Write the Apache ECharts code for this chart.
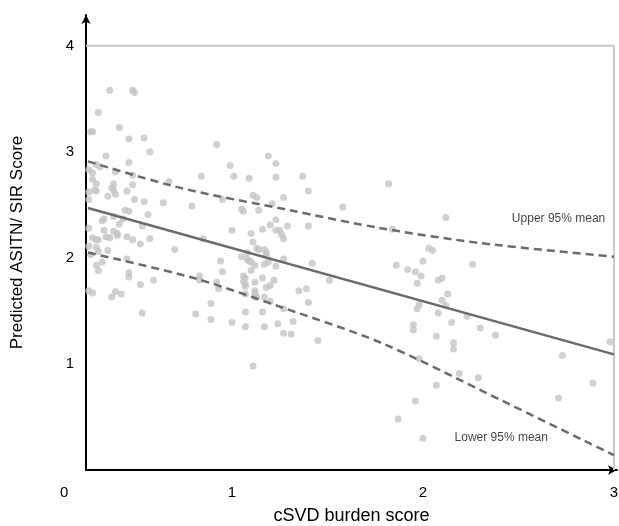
<html>

<head>
    <meta charset='utf-8' />
    <script src="https://cdn.jsdelivr.net/npm/echarts@6/dist/echarts.min.js"></script>
    <title>cSVD burden score</title>
    <style>
        body {
            margin: 0;
            overflow: hidden;
            background: #fff;
        }

        #chart {
            width: 619px;
            height: 526px;
        }
    </style>
</head>

<body>
    <div id="chart"></div>
    <script type="text/javascript">
        // axis ticks
        var xTicks = [1, 2, 3];
        var yTicks = [1, 2, 3, 4];

        // observed scores, [cSVD burden, ASITN/SIR]
        var pointsLow = [
            [0.36, 3.58], [0.48, 3.58], [0.49, 3.56], [0.30, 3.37], [0.26, 3.19], [0.27, 3.19], [0.41, 3.23],
            [0.46, 3.12], [0.54, 3.13], [0.57, 3.00], [0.34, 2.96], [0.46, 2.90], [0.29, 2.88], [0.31, 2.86],
            [0.27, 2.80], [0.25, 2.83], [0.39, 2.81], [0.48, 2.78], [0.27, 2.74], [0.29, 2.70], [0.38, 2.70],
            [0.37, 2.66], [0.38, 2.64], [0.48, 2.69], [0.45, 2.63], [0.67, 2.72], [0.25, 2.62], [0.28, 2.64],
            [0.29, 2.63], [0.39, 2.60], [0.35, 2.58], [0.49, 2.55], [0.54, 2.53], [0.64, 2.52], [0.25, 2.55],
            [0.44, 2.45], [0.46, 2.44], [0.56, 2.41], [0.33, 2.37], [0.32, 2.35], [0.43, 2.37], [0.38, 2.39],
            [0.41, 2.32], [0.53, 2.30], [0.25, 2.28], [0.33, 2.26], [0.38, 2.25], [0.40, 2.23], [0.40, 2.21],
            [0.34, 2.20], [0.36, 2.19], [0.45, 2.20], [0.48, 2.17], [0.57, 2.18], [0.52, 2.13], [0.27, 2.19],
            [0.29, 2.17], [0.30, 2.17], [0.25, 2.11], [0.29, 2.10], [0.30, 2.06], [0.35, 2.07], [0.70, 2.08],
            [0.26, 2.03], [0.45, 1.99], [0.32, 1.96], [0.29, 1.93], [0.30, 1.88], [0.46, 1.86], [0.46, 1.82],
            [0.59, 1.79], [0.52, 1.75], [0.25, 1.69], [0.27, 1.67], [0.39, 1.68], [0.37, 1.63], [0.42, 1.66],
            [0.53, 1.48]
        ];
        var pointsMid = [
            [0.92, 3.07], [1.19, 2.96], [0.99, 2.87], [1.23, 2.89], [0.84, 2.77], [1.01, 2.77], [1.09, 2.75],
            [1.23, 2.76], [1.37, 2.77], [1.40, 2.63], [1.11, 2.59], [1.13, 2.57], [1.27, 2.57], [0.95, 2.55],
            [1.21, 2.51], [0.79, 2.49], [1.05, 2.46], [1.06, 2.44], [1.14, 2.45], [1.58, 2.48], [1.23, 2.36],
            [1.40, 2.30], [1.29, 2.30], [1.00, 2.26], [1.16, 2.27], [1.20, 2.31], [1.23, 2.26], [1.25, 2.26],
            [1.26, 2.22], [1.27, 2.18], [1.10, 2.23], [0.85, 2.18], [1.11, 2.15], [1.13, 2.09], [1.14, 2.08],
            [1.17, 2.08], [1.18, 2.05], [1.18, 2.02], [1.08, 2.05], [1.05, 2.01], [1.27, 1.99], [1.08, 1.99],
            [1.09, 1.97], [1.10, 1.96], [0.94, 1.97], [1.19, 1.96], [1.17, 1.94], [1.42, 1.95], [1.12, 1.93],
            [1.23, 1.92], [1.10, 1.88], [0.95, 1.87], [0.83, 1.83], [0.83, 1.79], [1.06, 1.83], [1.07, 1.81],
            [1.06, 1.78], [1.16, 1.81], [1.22, 1.79], [1.51, 1.79], [0.92, 1.77], [0.93, 1.71], [1.12, 1.77],
            [1.20, 1.74], [1.18, 1.72], [1.07, 1.75], [1.07, 1.73], [1.12, 1.69], [1.12, 1.67], [1.12, 1.63],
            [1.13, 1.63], [1.07, 1.66], [1.17, 1.63], [1.35, 1.69], [1.39, 1.71], [1.20, 1.59], [0.89, 1.57],
            [1.40, 1.58], [1.27, 1.52], [0.81, 1.47], [1.07, 1.49], [1.16, 1.49], [0.89, 1.42], [1.00, 1.39],
            [1.24, 1.38], [1.32, 1.40], [1.07, 1.35], [1.17, 1.35], [1.27, 1.29], [1.31, 1.28], [1.45, 1.22],
            [1.11, 0.98]
        ];
        var pointsHigh = [
            [1.82, 2.70], [2.12, 2.38], [1.84, 2.27], [2.03, 2.09], [2.05, 2.07], [2.00, 1.97], [2.26, 1.94],
            [1.86, 1.93], [1.92, 1.89], [1.96, 1.87], [1.99, 1.83], [1.97, 1.76], [2.08, 1.79], [2.10, 1.81],
            [2.13, 1.66], [2.10, 1.60], [1.98, 1.56], [1.97, 1.52], [2.12, 1.55], [2.08, 1.48], [2.23, 1.45],
            [2.15, 1.39], [1.95, 1.37], [1.95, 1.32], [2.30, 1.34], [2.38, 1.27], [2.07, 1.26], [2.16, 1.20],
            [2.16, 1.14], [2.98, 1.21], [2.73, 1.08], [1.98, 1.05], [2.19, 0.91], [2.29, 0.87], [2.07, 0.80],
            [2.89, 0.82], [2.71, 0.68], [1.96, 0.65], [1.87, 0.48], [2.00, 0.30]
        ];

        // fitted line and 95% band of the mean
        var fitLine = [[0.246, 2.47], [3.0, 1.09]];
        var upperMean = [[0.246, 2.91], [0.73, 2.66], [1.30, 2.45], [1.78, 2.28], [2.30, 2.14], [3.0, 2.01]];
        var lowerMean = [[0.246, 2.05], [0.80, 1.81], [1.25, 1.54], [1.78, 1.20], [2.35, 0.71], [3.0, 0.14]];

        // plot frame (top and right edge)
        var frame = [[0.2356, 4], [3, 4], [3, 0]];

        var bandLabels = [
            { value: [2.71, 2.37], text: 'Upper 95% mean' },
            { value: [2.41, 0.30], text: 'Lower 95% mean' }
        ];

        var font = 'Liberation Sans, Arial, Helvetica, sans-serif';
        var dotColor = '#c4c4c4';
        var lineColor = '#6b6b6b';

        var chart = echarts.init(document.getElementById('chart'));

        var option = {
            animation: false,
            grid: {
                left: 86,
                right: 2,
                top: 15,
                bottom: 56,
                outerBoundsMode: 'none'
            },
            xAxis: {
                type: 'value',
                min: 0.2356,
                max: 3.016,
                name: 'cSVD burden score',
                nameLocation: 'middle',
                nameGap: 37,
                nameTextStyle: {
                    fontFamily: font,
                    fontSize: 18,
                    color: '#000'
                },
                axisLine: {
                    onZero: false,
                    symbol: ['none', 'arrow'],
                    symbolSize: [7, 9],
                    lineStyle: { color: '#000', width: 2 }
                },
                axisTick: { show: false },
                splitLine: { show: false },
                axisLabel: {
                    customValues: xTicks,
                    margin: 15,
                    fontFamily: font,
                    fontSize: 15,
                    color: '#000'
                }
            },
            yAxis: {
                type: 'value',
                min: 0,
                max: 4.29,
                name: 'Predicted ASITN/ SIR Score',
                nameLocation: 'middle',
                nameGap: 60,
                nameTextStyle: {
                    fontFamily: font,
                    fontSize: 17,
                    color: '#000'
                },
                axisLine: {
                    show: true,
                    symbol: ['none', 'arrow'],
                    symbolSize: [7, 9],
                    lineStyle: { color: '#000', width: 2 }
                },
                axisTick: { show: false },
                splitLine: { show: false },
                axisLabel: {
                    customValues: yTicks,
                    margin: 12,
                    fontFamily: font,
                    fontSize: 15,
                    color: '#000'
                }
            },
            graphic: [{
                type: 'text',
                left: 60,
                top: 485,
                style: {
                    text: '0',
                    font: '15px ' + font,
                    fill: '#000'
                }
            }],
            series: [{
                type: 'line',
                data: frame,
                symbol: 'none',
                silent: true,
                lineStyle: { color: '#c8c8c8', width: 2 }
            }, {
                type: 'scatter',
                data: pointsLow.concat(pointsMid, pointsHigh),
                symbolSize: 7,
                clip: false,
                itemStyle: { color: dotColor }
            }, {
                type: 'line',
                data: upperMean,
                smooth: 0.3,
                symbol: 'none',
                lineStyle: { color: lineColor, width: 2.5, type: [8, 5] }
            }, {
                type: 'line',
                data: lowerMean,
                smooth: 0.3,
                symbol: 'none',
                lineStyle: { color: lineColor, width: 2.5, type: [8, 5] }
            }, {
                type: 'line',
                data: fitLine,
                symbol: 'none',
                lineStyle: { color: lineColor, width: 2.5 }
            }, {
                type: 'scatter',
                data: bandLabels,
                symbolSize: 0,
                label: {
                    show: true,
                    position: 'inside',
                    formatter: function(p) {
                        return p.data.text;
                    },
                    fontFamily: font,
                    fontSize: 12,
                    color: '#111',
                    textBorderWidth: 0
                }
            }]
        };

        chart.setOption(option);
    </script>
</body>

</html>
